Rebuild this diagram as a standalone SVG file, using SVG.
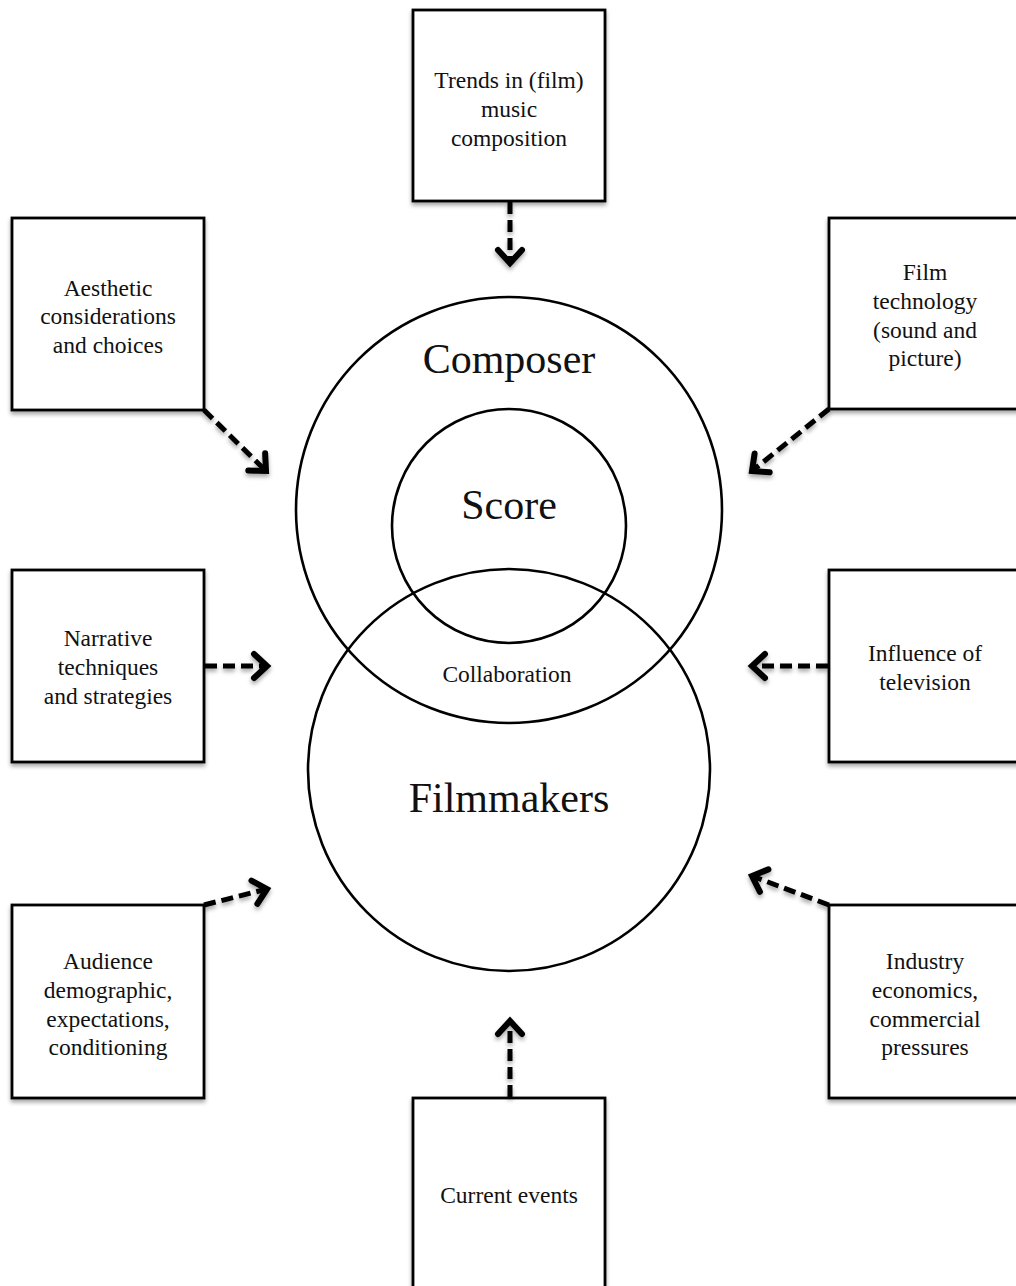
<svg xmlns="http://www.w3.org/2000/svg" width="1016" height="1286" viewBox="0 0 1016 1286">
<style>
.box{fill:#fff;stroke:#000;stroke-width:2.8;filter:url(#sh)}
.t{font-family:"Liberation Serif","Times New Roman",serif;font-size:23.5px;fill:#111;text-anchor:middle}
.big{font-family:"Liberation Serif","Times New Roman",serif;font-size:42px;fill:#111;text-anchor:middle}
.circ{fill:none;stroke:#000;stroke-width:2.6}
.arr{fill:none;stroke:#000;stroke-width:5;stroke-dasharray:12 6;marker-end:url(#ah);filter:url(#sh)}
</style>
<defs>
<filter id="sh" filterUnits="userSpaceOnUse" x="0" y="0" width="1016" height="1286">
<feDropShadow dx="0" dy="3" stdDeviation="2" flood-color="#000" flood-opacity="0.35"/>
</filter>
<marker id="ah" markerUnits="userSpaceOnUse" viewBox="-16 -16 32 32" markerWidth="32" markerHeight="32" refX="0" refY="0" orient="auto" overflow="visible">
<path d="M-13,-12 L0,0 L-13,12" fill="none" stroke="#000" stroke-width="6" stroke-linecap="round" stroke-linejoin="miter"/>
</marker>
</defs>
<rect width="1016" height="1286" fill="#fff"/>

<g id="composer">
<circle class="circ" cx="509" cy="510" r="213"/>
<text class="big" x="509" y="373">Composer</text>
</g>
<g id="score">
<circle class="circ" cx="509" cy="526" r="117"/>
<text class="big" x="509" y="519">Score</text>
</g>
<g id="filmmakers">
<circle class="circ" cx="509" cy="770" r="201"/>
<text class="big" x="509" y="812">Filmmakers</text>
</g>
<g id="collaboration">
<text class="t" x="507" y="682">Collaboration</text>
</g>

<g id="trends">
<rect class="box" x="413" y="10" width="192" height="191"/>
<text class="t" x="509" y="88">Trends in (film)</text>
<text class="t" x="509" y="117">music</text>
<text class="t" x="509" y="146">composition</text>
</g>
<g id="aesthetic">
<rect class="box" x="12" y="218" width="192" height="192"/>
<text class="t" x="108" y="296">Aesthetic</text>
<text class="t" x="108" y="324">considerations</text>
<text class="t" x="108" y="353">and choices</text>
</g>
<g id="filmtech">
<rect class="box" x="829" y="218" width="192" height="191"/>
<text class="t" x="925" y="280">Film</text>
<text class="t" x="925" y="309">technology</text>
<text class="t" x="925" y="338">(sound and</text>
<text class="t" x="925" y="366">picture)</text>
</g>
<g id="narrative">
<rect class="box" x="12" y="570" width="192" height="192"/>
<text class="t" x="108" y="646">Narrative</text>
<text class="t" x="108" y="675">techniques</text>
<text class="t" x="108" y="704">and strategies</text>
</g>
<g id="television">
<rect class="box" x="829" y="570" width="192" height="192"/>
<text class="t" x="925" y="661">Influence of</text>
<text class="t" x="925" y="690">television</text>
</g>
<g id="audience">
<rect class="box" x="12" y="905" width="192" height="193"/>
<text class="t" x="108" y="969">Audience</text>
<text class="t" x="108" y="998">demographic,</text>
<text class="t" x="108" y="1027">expectations,</text>
<text class="t" x="108" y="1055">conditioning</text>
</g>
<g id="industry">
<rect class="box" x="829" y="905" width="192" height="193"/>
<text class="t" x="925" y="969">Industry</text>
<text class="t" x="925" y="998">economics,</text>
<text class="t" x="925" y="1027">commercial</text>
<text class="t" x="925" y="1055">pressures</text>
</g>
<g id="current">
<rect class="box" x="413" y="1098" width="192" height="200"/>
<text class="t" x="509" y="1203">Current events</text>
</g>

<g id="connectors">
<line class="arr" x1="510" y1="202" x2="510" y2="263"/>
<line class="arr" x1="204" y1="410" x2="266" y2="471"/>
<line class="arr" x1="829" y1="409" x2="752" y2="471"/>
<line class="arr" x1="205" y1="666" x2="267" y2="666"/>
<line class="arr" x1="828" y1="666" x2="752" y2="666"/>
<line class="arr" x1="204" y1="905" x2="267" y2="889"/>
<line class="arr" x1="829" y1="905" x2="752" y2="876"/>
<line class="arr" x1="510" y1="1097" x2="510" y2="1021"/>
</g>
</svg>
